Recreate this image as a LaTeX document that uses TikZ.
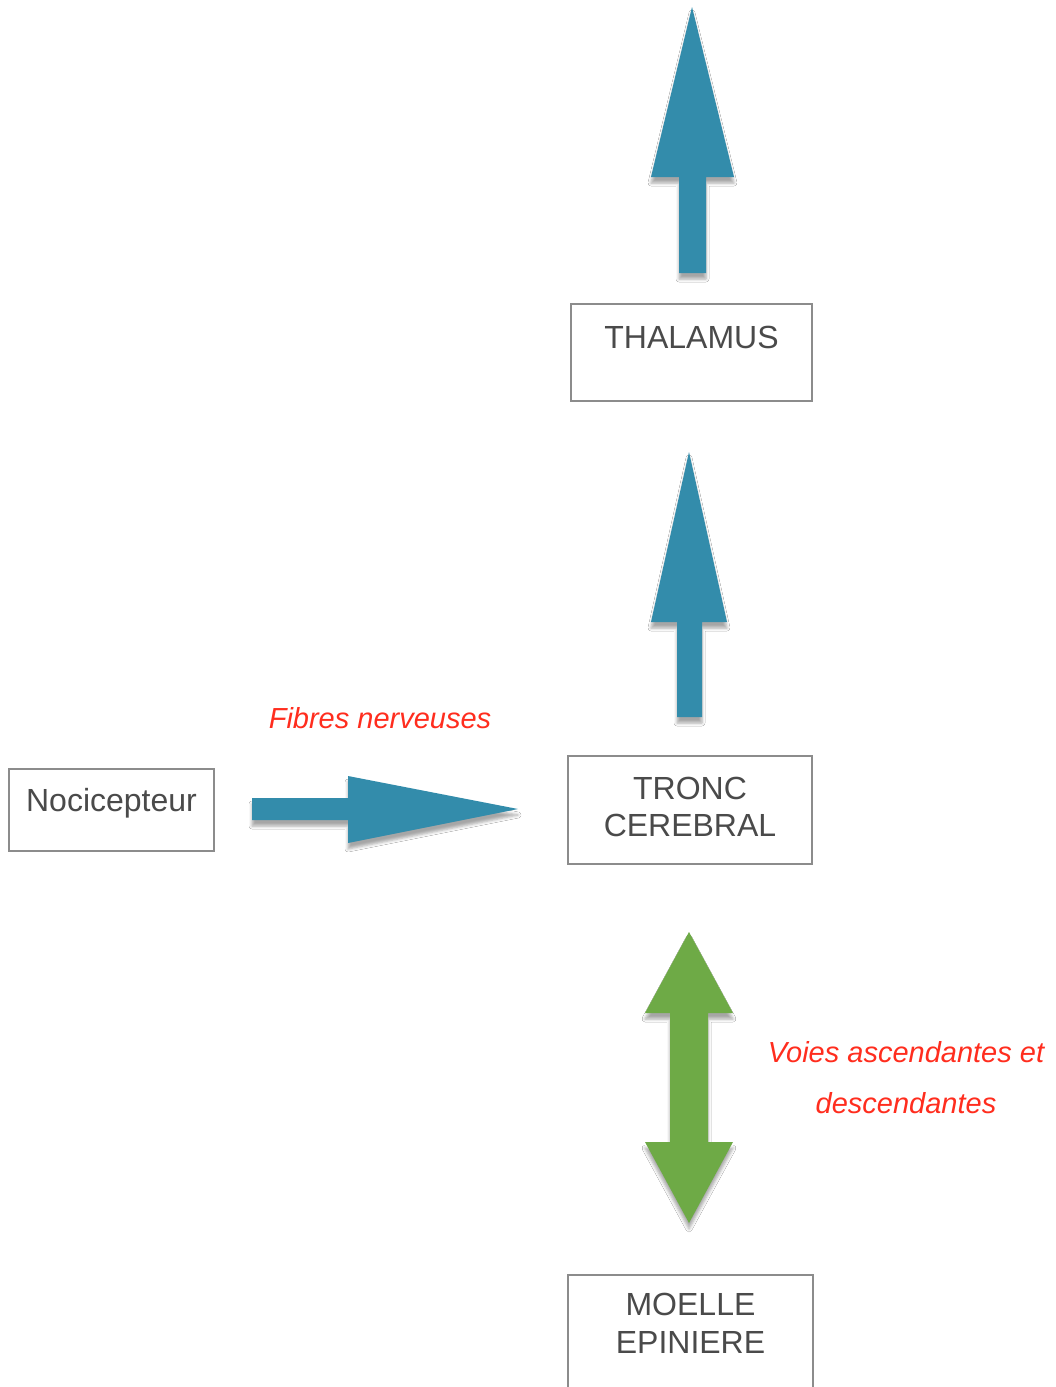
\documentclass[tikz,border=0pt]{standalone}
\usepackage{fontspec}
\setmainfont{Liberation Sans}
\usetikzlibrary{shadows.blur}
\definecolor{boxline}{HTML}{8C8C8C}
\definecolor{boxtext}{HTML}{4A4A4A}
\definecolor{redlab}{HTML}{FF2D1E}
\definecolor{bluearrow}{HTML}{338CAB}
\definecolor{greenarrow}{HTML}{6EAA46}
\begin{document}
\begin{tikzpicture}[x=1pt,y=-1pt,
  boxnode/.style={draw=boxline, line width=2pt, inner sep=0pt, anchor=north west,
    text=boxtext, font=\fontsize{32}{37}\selectfont},
  redlabel/.style={text=redlab, font=\fontsize{29}{51}\selectfont\itshape,
    inner sep=0pt, anchor=base},
  arrowshadow/.style={blur shadow={shadow xshift=0pt, shadow yshift=-6pt,
    shadow blur radius=3pt, shadow opacity=35}},
  bluearr/.style={fill=bluearrow, arrowshadow},
  greenarr/.style={fill=greenarrow, arrowshadow}
]
\clip (0,0) rectangle (1055,1387);
\fill[white] (0,0) rectangle (1055,1387);

% boxes
\node[boxnode] (thal) at (570,303)
  {\parbox[t][97pt][t]{241pt}{\centering\rule{0pt}{44pt}THALAMUS}};
\node[boxnode] (tronc) at (567,755)
  {\parbox[t][108pt][t]{244pt}{\centering\rule{0pt}{43pt}TRONC\\CEREBRAL}};
\node[boxnode] (moelle) at (567,1274)
  {\parbox[t][150pt][t]{245pt}{\centering\fontsize{32}{38.5}\selectfont\rule{0pt}{40pt}MOELLE\\EPINIERE}};
\node[boxnode] (noci) at (8,768)
  {\parbox[t][82pt][t]{205pt}{\centering\rule{0pt}{42pt}Nocicepteur}};

% labels
\node[redlabel] (fib) at (380,728) {Fibres nerveuses};
\node[redlabel] (voies) at (906,1062)
  {\parbox[t]{320pt}{\centering Voies ascendantes et\\descendantes}};

% arrows
\fill[bluearr] (692,7) -- (734,177) -- (706,177) -- (706,273) -- (679,273)
  -- (679,177) -- (651,177) -- cycle;
\fill[bluearr] (689,452) -- (727,622) -- (702,622) -- (702,717) -- (677,717)
  -- (677,622) -- (651,622) -- cycle;
\fill[bluearr] (518,809) -- (348,843) -- (348,820) -- (252,820) -- (252,798)
  -- (348,798) -- (348,776) -- cycle;
\fill[greenarr] (689,932) -- (733,1013) -- (708,1013) -- (708,1142) -- (733,1142)
  -- (689,1223) -- (645,1142) -- (670,1142) -- (670,1013) -- (645,1013) -- cycle;
\end{tikzpicture}
\end{document}
